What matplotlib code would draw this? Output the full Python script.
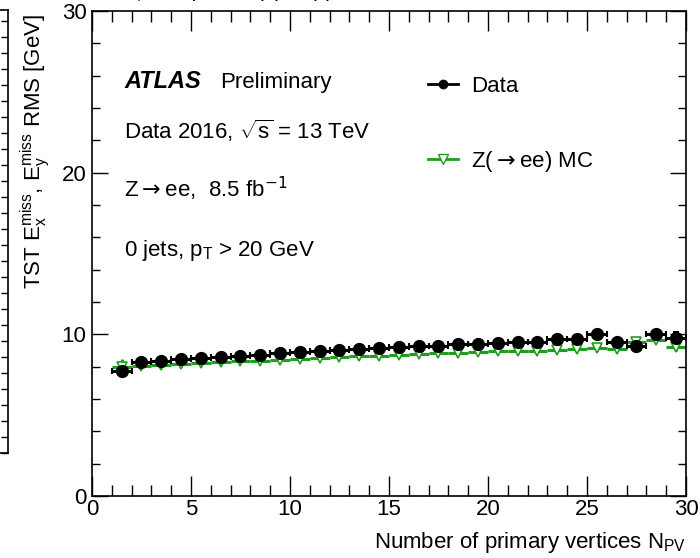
import matplotlib
matplotlib.use('Agg')
import matplotlib.pyplot as plt
from matplotlib.ticker import MultipleLocator
from matplotlib.lines import Line2D

plt.rcParams['font.family'] = ['Liberation Sans', 'DejaVu Sans']
plt.rcParams['mathtext.fontset'] = 'custom'
plt.rcParams['mathtext.rm'] = 'Liberation Sans'
plt.rcParams['mathtext.it'] = 'Liberation Sans:italic'

# bin centres of N_PV
npv = [1.5, 2.5, 3.5, 4.5, 5.5, 6.5, 7.5, 8.5, 9.5, 10.5,
       11.5, 12.5, 13.5, 14.5, 15.5, 16.5, 17.5, 18.5, 19.5, 20.5,
       21.5, 22.5, 23.5, 24.5, 25.5, 26.5, 27.5, 28.5, 29.5]

# data RMS values [GeV] and their errors
data_rms = [7.75, 8.3, 8.35, 8.45, 8.55, 8.6, 8.68, 8.75, 8.82, 8.9,
            8.97, 9.03, 9.08, 9.13, 9.22, 9.25, 9.3, 9.38, 9.43, 9.45,
            9.55, 9.52, 9.7, 9.72, 10.0, 9.55, 9.3, 10.0, 9.78]
data_err = [0.35, 0.08, 0.05, 0.04, 0.04, 0.03, 0.03, 0.03, 0.03, 0.03,
            0.03, 0.03, 0.03, 0.03, 0.04, 0.04, 0.04, 0.05, 0.05, 0.06,
            0.07, 0.08, 0.09, 0.1, 0.12, 0.14, 0.17, 0.22, 0.35]

# Z(->ee) MC RMS values [GeV]
mc_rms = [7.95, 8.05, 8.1, 8.15, 8.22, 8.28, 8.33, 8.38, 8.43, 8.48,
          8.53, 8.58, 8.63, 8.68, 8.72, 8.77, 8.82, 8.87, 8.92, 8.95,
          8.98, 9.0, 9.05, 9.08, 9.15, 9.1, 9.5, 9.68, 9.2]
mc_err = [0.5, 0.1, 0.05, 0.04, 0.03, 0.03, 0.03, 0.03, 0.03, 0.03,
          0.03, 0.03, 0.03, 0.03, 0.03, 0.03, 0.04, 0.04, 0.04, 0.05,
          0.05, 0.06, 0.07, 0.08, 0.09, 0.1, 0.12, 0.15, 0.2]

green = '#1e9e1e'
fs = 16

fig = plt.figure(figsize=(7, 5.58), dpi=100)

# right edge of the neighbouring panel, cut off at the left border
ax0 = fig.add_axes([-0.3, 0.188, 0.3114, 0.794])
ax0.set_ylim(0, 27.7)
ax0.set_xlim(0, 1)
ax0.yaxis.set_major_locator(MultipleLocator(1))
ax0.tick_params(axis='y', which='both', direction='in', left=False, right=True,
                labelleft=False, length=5, width=1)
ax0.tick_params(axis='x', bottom=False, labelbottom=False)
for s in ax0.spines.values():
    s.set_linewidth(1.2)

ax = fig.add_axes([0.1314, 0.1111, 0.8486, 0.8692])

# MC first, data on top
ax.errorbar(npv, mc_rms, xerr=0.5, yerr=mc_err, fmt='v', color=green,
            markerfacecolor='white', markeredgecolor=green, markersize=7,
            markeredgewidth=1.2, elinewidth=2.2, capsize=0)
ax.errorbar(npv, data_rms, xerr=0.5, yerr=data_err, fmt='o', color='black',
            markersize=8.5, elinewidth=2.2, capsize=2.5, capthick=1.5)

ax.set_xlim(0, 30)
ax.set_ylim(0, 30)
ax.xaxis.set_major_locator(MultipleLocator(5))
ax.xaxis.set_minor_locator(MultipleLocator(1))
ax.yaxis.set_major_locator(MultipleLocator(10))
ax.yaxis.set_minor_locator(MultipleLocator(2))
ax.tick_params(axis='x', which='major', direction='in', top=True, length=14.5, width=1,
               labelsize=fs, pad=2)
ax.tick_params(axis='x', which='minor', direction='in', top=True, length=8, width=1)
ax.tick_params(axis='y', which='major', direction='in', right=True, length=11.5, width=1,
               labelsize=fs, pad=4)
ax.tick_params(axis='y', which='minor', direction='in', right=True, length=5.5, width=1)
for s in ax.spines.values():
    s.set_linewidth(1.2)

ax.text(0.054, 0.841, 'ATLAS', transform=ax.transAxes, fontsize=17,
        fontweight='bold', fontstyle='italic', va='baseline')
ax.text(0.215, 0.841, 'Preliminary', transform=ax.transAxes, fontsize=fs, va='baseline')
ax.text(0.054, 0.736, 'Data 2016, $\\sqrt{\\mathrm{s}}$ = 13 TeV', transform=ax.transAxes,
        fontsize=fs, va='baseline')
ax.text(0.054, 0.616, 'Z$\\rightarrow$ee,  8.5 fb$^{-1}$', transform=ax.transAxes,
        fontsize=fs, va='baseline', math_fontfamily='dejavusans')
ax.text(0.054, 0.495, '0 jets, p$_{\\mathrm{T}}$ > 20 GeV', transform=ax.transAxes,
        fontsize=fs, va='baseline')

h_data = Line2D([], [], color='black', lw=2, marker='o', markersize=6)
h_mc = Line2D([], [], color=green, lw=2, marker='v', markersize=7,
              markerfacecolor='white', markeredgecolor=green)
leg = ax.legend(handles=[h_data, h_mc], labels=['Data', 'Z($\\rightarrow$ee) MC'],
                loc='upper left', bbox_to_anchor=(0.55, 0.885),
                frameon=False, fontsize=fs, handlelength=1.35, handletextpad=0.6,
                labelspacing=2.35, borderaxespad=0)
leg.get_texts()[1].set_math_fontfamily('dejavusans')

fig.text(35 / 700, 1 - 14 / 558,
         'TST E$_{\\mathrm{x}}^{\\mathrm{miss}}$, E$_{\\mathrm{y}}^{\\mathrm{miss}}$ RMS [GeV]',
         rotation=90, ha='center', va='top', fontsize=fs)
fig.text(686 / 700, 10 / 558, 'Number of primary vertices N$_{\\mathrm{PV}}$',
         ha='right', va='baseline', fontsize=fs)

# title of the original page, cut off at the top border
fig.text(0.16, 1.014, 'E$_{\\mathrm{T,miss}}$ (Z$\\rightarrow$ee) per pp',
         ha='left', va='center', fontsize=fs, math_fontfamily='dejavusans')

fig.savefig('out.png', dpi=100)
